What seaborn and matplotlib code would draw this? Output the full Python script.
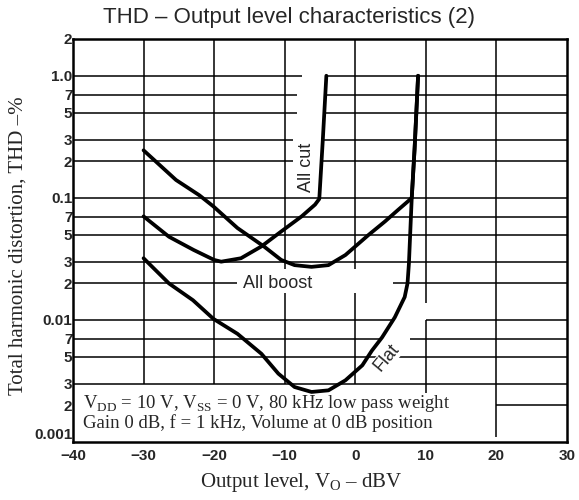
import matplotlib
matplotlib.use("Agg")
import matplotlib.pyplot as plt
import seaborn as sns
import pandas as pd

# ---- data ----
allcut_x = [-30, -26.4, -22.9, -20.0, -19.0, -16.2, -13.3, -10.5, -7.6, -5.7, -5.1, -4.6, -4.1]
allcut_y = [0.0705, 0.048, 0.0374, 0.031, 0.030, 0.032, 0.040, 0.053, 0.0705, 0.088, 0.098, 0.3, 1.0]

allboost_x = [-30, -25.4, -22.1, -20.1, -16.7, -12.9, -10.5, -8.6, -6.2, -3.8, -1.4, 1.9, 4.2, 6.1, 7.5, 8.0, 8.4, 8.9]
allboost_y = [0.245, 0.14, 0.105, 0.085, 0.0566, 0.0398, 0.031, 0.0281, 0.0272, 0.0281, 0.034, 0.0498, 0.064, 0.080, 0.094, 0.1, 0.25, 1.0]

flat_x = [-30, -26.4, -23.0, -20.1, -16.7, -13.3, -10.9, -8.6, -6.2, -3.8, -1.4, 1.0, 2.35, 3.8, 5.6, 7.0, 7.4, 7.6, 8.0, 8.4, 8.9]
flat_y = [0.032, 0.0199, 0.0145, 0.0102, 0.0077, 0.00528, 0.00363, 0.00282, 0.00257, 0.00265, 0.0032, 0.00425, 0.0056, 0.0072, 0.0105, 0.0154, 0.0199, 0.029, 0.1, 0.25, 1.0]

ytick_vals = [2, 1.0, 0.7, 0.5, 0.3, 0.2, 0.1, 0.07, 0.05, 0.03, 0.02, 0.01, 0.007, 0.005, 0.003, 0.002, 0.001]
ytick_labels = ["2", "1.0", "7", "5", "3", "2", "0.1", "7", "5", "3", "2", "0.01", "7", "5", "3", "2", "0.001"]
xtick_vals = [-40, -30, -20, -10, 0, 10, 20, 30]
xtick_labels = ["\u221240", "\u221230", "\u221220", "\u221210", "0", "10", "20", "30"]

# grid segments (decoration), horizontal: (y, x_start, x_end)
hgrid = [
    (1.0, -40, -7.6), (1.0, -4.1, 30),
    (0.7, -40, -8.3), (0.7, -4.3, 30),
    (0.5, -40, -8.3), (0.5, -4.4, 30),
    (0.3, -40, -8.8), (0.3, -4.6, 30),
    (0.2, -40, -8.8), (0.2, -4.7, 30),
    (0.1, -40, 30), (0.07, -40, 30), (0.05, -40, 30), (0.03, -40, 30),
    (0.02, -40, -16.8), (0.02, 5.3, 30),
    (0.01, -40, 5.4), (0.01, 10, 30),
    (0.007, -40, 3.8), (0.007, 7.8, 30),
    (0.005, -40, 30), (0.003, -40, 30),
    (0.002, 20, 30),
]
# vertical: (x, y_start, y_end)
vgrid = [
    (-30, 0.003, 2), (-20, 0.003, 2),
    (-10, 0.003, 0.0165), (-10, 0.026, 2),
    (0, 0.003, 0.0165), (0, 0.026, 2),
    (10, 0.0025, 0.01), (10, 0.0137, 2),
    (20, 0.0011, 2),
]

sns.set_style("white")
plt.rcParams["font.family"] = ["Liberation Sans", "DejaVu Sans"]
plt.rcParams["mathtext.fontset"] = "custom"
plt.rcParams["mathtext.rm"] = "Liberation Serif"

df = pd.concat([
    pd.DataFrame({"x": allcut_x, "y": allcut_y, "curve": "All cut"}),
    pd.DataFrame({"x": allboost_x, "y": allboost_y, "curve": "All boost"}),
    pd.DataFrame({"x": flat_x, "y": flat_y, "curve": "Flat"}),
], ignore_index=True)

fig = plt.figure(figsize=(5.79, 5.0), dpi=100)
ax = fig.add_axes([73 / 579, 1 - 442 / 500, (567 - 73) / 579, (442 - 39) / 500])

ax.set_yscale("log")
ax.set_xlim(-40, 30)
ax.set_ylim(0.001, 2)

for y, x0, x1 in hgrid:
    ax.hlines(y, x0, x1, color="black", lw=1.1, zorder=1)
for x, y0, y1 in vgrid:
    ax.vlines(x, y0, y1, color="black", lw=1.1, zorder=1)

sns.lineplot(data=df, x="x", y="y", hue="curve", units="curve", estimator=None,
             sort=False, palette={"All cut": "black", "All boost": "black", "Flat": "black"},
             lw=2.7, legend=False, ax=ax, zorder=3)

ax.set_xticks(xtick_vals)
ax.set_xticklabels(xtick_labels, fontsize=11, fontweight="bold")
ax.set_yticks(ytick_vals)
ax.set_yticklabels(ytick_labels, fontsize=11, fontweight="bold")
ax.yaxis.set_minor_locator(matplotlib.ticker.NullLocator())
ax.tick_params(axis="x", length=0, pad=5)
ax.tick_params(axis="y", length=0, pad=0.5)
ax.get_yticklabels()[-1].set_va("bottom")
ax.set_xlabel("")
ax.set_ylabel("")
for s in ax.spines.values():
    s.set_visible(True)
    s.set_color("black")
    s.set_linewidth(1.8)

# annotations
ax.text(-6.9, 0.176, "All cut", rotation=90, fontsize=13, ha="center", va="center", zorder=4)
ax.text(-11, 0.02, "All boost", fontsize=13, ha="center", va="center", zorder=4)
ax.text(4.5, 0.0049, "Flat", rotation=50, fontsize=13, ha="center", va="center", zorder=4,
        bbox=dict(facecolor="white", edgecolor="none", pad=0.5))
ax.text(-38.6, 0.00205, r"V$_\mathregular{DD}$ = 10 V, V$_\mathregular{SS}$ = 0 V, 80 kHz low pass weight",
        fontsize=13.5, family="Liberation Serif", ha="left", va="center", zorder=4)
ax.text(-38.6, 0.00142, "Gain 0 dB, f = 1 kHz, Volume at 0 dB position",
        fontsize=13.5, family="Liberation Serif", ha="left", va="center", zorder=4)

fig.text(289 / 579, 1 - 18 / 500, "THD \u2013 Output level characteristics (2)",
         fontsize=16, ha="center", va="center")
fig.text(301 / 579, 1 - 483 / 500, "Output level, V$_\\mathregular{O}$ \u2013 dBV",
         fontsize=15, family="Liberation Serif", ha="center", va="center")
fig.text(18 / 579, 1 - 246 / 500, "Total harmonic distortion, THD \u2013%",
         fontsize=15, family="Liberation Serif", rotation=90, ha="center", va="center")

fig.savefig("out.png", dpi=100)
